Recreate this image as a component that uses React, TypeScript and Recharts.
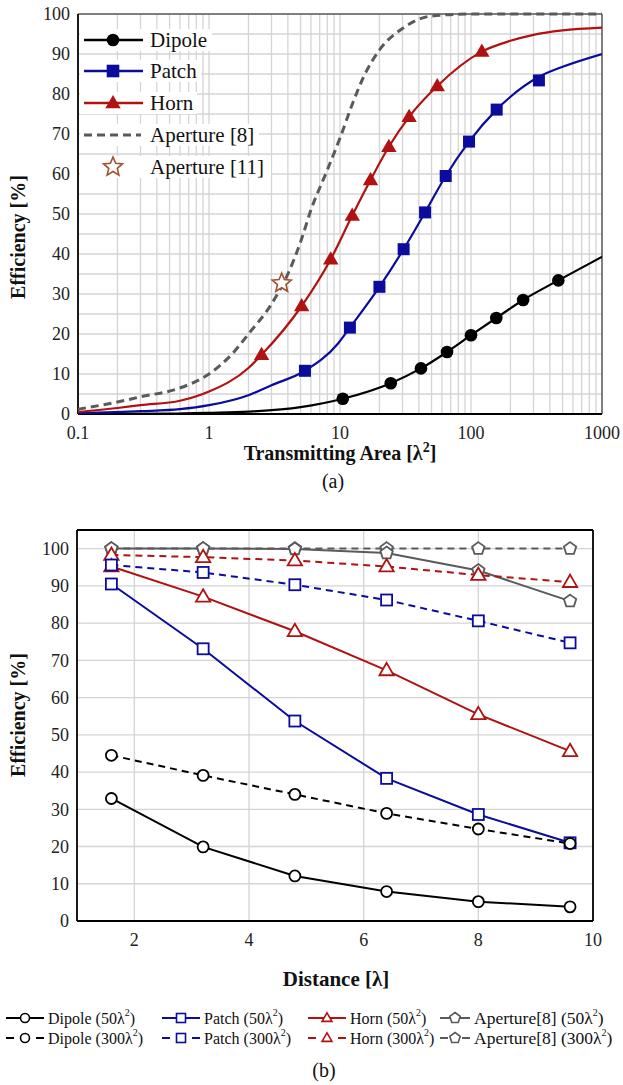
import React from 'react'
import { ComposedChart, Line, XAxis, YAxis, ReferenceLine } from 'recharts'

const SERIF = '"Liberation Serif", "Times New Roman", serif'
const BLUE = '#0c0c9c'
const RED = '#b01212'
const GRAY = '#5a5a5a'
const BROWN = '#a0522d'
const GRID = '#d4d4d4'

// ---- (a) efficiency vs transmitting area ----
const areaTicks = [0.1, 1, 10, 100, 1000]
const areaGrid = [
  0.2, 0.3, 0.4, 0.5, 0.6, 0.7, 0.8, 0.9, 1, 2, 3, 4, 5, 6, 7, 8, 9, 10,
  20, 30, 40, 50, 60, 70, 80, 90, 100, 200, 300, 400, 500, 600, 700, 800, 900,
]
const effTicks = [0, 10, 20, 30, 40, 50, 60, 70, 80, 90, 100]
const effGrid = [5, 10, 15, 20, 25, 30, 35, 40, 45, 50, 55, 60, 65, 70, 75, 80, 85, 90, 95]

const dipoleCurveArea = [0.1, 0.5, 1, 2, 5, 10.5, 24.4, 41.5, 65.6, 100, 156, 250, 464, 1000]
const dipoleCurveEff = [0, 0.1, 0.3, 0.6, 1.7, 3.8, 7.7, 11.4, 15.5, 19.7, 24, 28.5, 33.4, 39.3]
const dipoleMarkArea = [10.5, 24.4, 41.5, 65.6, 100, 156, 250, 464]
const dipoleMarkEff = [3.8, 7.7, 11.4, 15.5, 19.7, 24, 28.5, 33.4]

const patchCurveArea = [0.1, 0.3, 0.6, 1, 2, 3, 5.4, 9.7, 11.9, 20, 30.6, 44.6, 64.1, 96.6, 157, 330, 500, 1000]
const patchCurveEff = [0.2, 0.7, 1.2, 2.2, 4.7, 7.2, 10.8, 17.7, 21.6, 31.8, 41.2, 50.4, 59.5, 68.1, 76.1, 84.3, 86.8, 90]
const patchMarkArea = [5.4, 11.9, 20, 30.6, 44.6, 64.1, 96.6, 157, 330]
const patchMarkEff = [10.8, 21.6, 31.8, 41.2, 50.4, 59.5, 68.1, 76.1, 83.4]

const hornCurveArea = [0.1, 0.2, 0.3, 0.6, 1, 2, 2.52, 5.1, 8.5, 12.4, 17.1, 23.6, 33.7, 55.3, 121, 200, 300, 500, 1000]
const hornCurveEff = [0.5, 1.5, 2.2, 3.3, 5.6, 11.5, 14.8, 27, 38.7, 49.6, 58.5, 66.8, 74.3, 82, 90.6, 93.3, 94.8, 95.9, 96.6]
const hornMarkArea = [2.52, 5.1, 8.5, 12.4, 17.1, 23.6, 33.7, 55.3, 121]
const hornMarkEff = [14.8, 27, 38.7, 49.6, 58.5, 66.8, 74.3, 82, 90.6]

const aper8Area = [0.1, 0.2, 0.3, 0.6, 1, 1.5, 2, 3, 4, 5, 6, 8, 10, 12.6, 15, 20, 30, 50, 100, 1000]
const aper8Eff = [1.2, 3, 4.3, 6.5, 10, 15, 20, 27.5, 35, 43, 51, 61, 69, 78, 84, 91, 96.4, 99.5, 100, 100]

const aper11Area = [3.59]
const aper11Eff = [32.7]

// ---- (b) efficiency vs distance ----
const distance = [1.6, 3.2, 4.8, 6.4, 8.0, 9.6]
const distTicks = [2, 4, 6, 8, 10]
const distGrid = [2, 4, 6, 8]
const effGridB = [10, 20, 30, 40, 50, 60, 70, 80, 90, 100]

const dipole50 = [32.9, 19.9, 12.1, 7.9, 5.2, 3.8]
const dipole300 = [44.5, 39.1, 34, 28.9, 24.7, 20.8]
const patch50 = [90.5, 73.1, 53.7, 38.3, 28.6, 21]
const patch300 = [95.6, 93.6, 90.3, 86.2, 80.6, 74.7]
const horn50 = [95.2, 87.1, 77.8, 67.3, 55.5, 45.6]
const horn300 = [98.3, 97.7, 96.8, 95.2, 92.9, 91]
const aperture50 = [100, 100, 99.9, 98.8, 94.1, 85.9]
const aperture300 = [100, 100, 100, 100, 100, 100]

const legendA = ['Dipole', 'Patch', 'Horn', 'Aperture [8]', 'Aperture [11]']
const legendB = [
  ['Dipole', 'Patch', 'Horn', 'Aperture[8]'],
  ['50', '300'],
]

const pts = (xs: number[], ys: number[]) => xs.map((x, i) => ({ x, y: ys[i] }))

type Shape = 'circle' | 'square' | 'triangle' | 'pentagon' | 'star'

function marker(shape: Shape, cx: number, cy: number, s: number, stroke: string, fill: string, sw: number, key?: string) {
  if (shape === 'circle') return <circle key={key} cx={cx} cy={cy} r={s} fill={fill} stroke={stroke} strokeWidth={sw} />
  if (shape === 'square')
    return <rect key={key} x={cx - s} y={cy - s} width={2 * s} height={2 * s} fill={fill} stroke={stroke} strokeWidth={sw} />
  if (shape === 'triangle') {
    const p = `${cx},${cy - s * 1.15} ${cx + s * 1.1},${cy + s * 0.75} ${cx - s * 1.1},${cy + s * 0.75}`
    return <polygon key={key} points={p} fill={fill} stroke={stroke} strokeWidth={sw} />
  }
  const n = shape === 'star' ? 10 : 5
  const p: string[] = []
  for (let i = 0; i < n; i++) {
    const a = (-90 + (360 / n) * i) * Math.PI / 180
    const r = shape === 'star' && i % 2 === 1 ? s * 0.45 : s
    p.push(`${cx + r * Math.cos(a)},${cy + r * Math.sin(a)}`)
  }
  return <polygon key={key} points={p.join(' ')} fill={fill} stroke={stroke} strokeWidth={sw} />
}

const dotFn = (name: string, shape: Shape, s: number, stroke: string, fill: string, sw: number) =>
  (props: any) => marker(shape, props.cx, props.cy, s, stroke, fill, sw, `${name}-${props.index}`)

const tickStyle = { fontFamily: SERIF, fontSize: 18, fill: '#222' }

function ChartA() {
  return (
    <ComposedChart width={623} height={470} margin={{ top: 14, right: 21, bottom: 26, left: 0 }}>
      <XAxis type="number" dataKey="x" scale="log" domain={[0.1, 1000]} allowDataOverflow ticks={areaTicks}
        interval={0} tickFormatter={(v: number) => String(v)} tick={tickStyle} tickLine={false} tickSize={10}
        axisLine={false} />
      <YAxis type="number" domain={[0, 100]} ticks={effTicks} interval={0} width={78} tick={tickStyle}
        tickLine={false} axisLine={false} />
      {areaGrid.map(v => <ReferenceLine key={'gx' + v} x={v} stroke={GRID} strokeWidth={1.3} />)}
      {effGrid.map(v => <ReferenceLine key={'gy' + v} y={v} stroke={GRID} strokeWidth={1.3} />)}
      <ReferenceLine y={100} stroke="#555" strokeWidth={1.5} />
      <ReferenceLine x={1000} stroke="#555" strokeWidth={1.5} />
      <ReferenceLine y={0} stroke="#000" strokeWidth={1.8} />
      <ReferenceLine x={0.1} stroke="#000" strokeWidth={1.8} />
      <Line data={pts(aper8Area, aper8Eff)} dataKey="y" type="monotone" stroke={GRAY} strokeWidth={3}
        strokeDasharray="8 5" dot={false} isAnimationActive={false} />
      <Line data={pts(dipoleCurveArea, dipoleCurveEff)} dataKey="y" type="monotone" stroke="#000" strokeWidth={2.2}
        dot={false} isAnimationActive={false} />
      <Line data={pts(patchCurveArea, patchCurveEff)} dataKey="y" type="monotone" stroke={BLUE} strokeWidth={2.2}
        dot={false} isAnimationActive={false} />
      <Line data={pts(hornCurveArea, hornCurveEff)} dataKey="y" type="monotone" stroke={RED} strokeWidth={2.2}
        dot={false} isAnimationActive={false} />
      <Line data={pts(dipoleMarkArea, dipoleMarkEff)} dataKey="y" stroke="none"
        dot={dotFn('dm', 'circle', 6.3, '#000', '#000', 0)} isAnimationActive={false} />
      <Line data={pts(patchMarkArea, patchMarkEff)} dataKey="y" stroke="none"
        dot={dotFn('pm', 'square', 6, BLUE, BLUE, 0)} isAnimationActive={false} />
      <Line data={pts(hornMarkArea, hornMarkEff)} dataKey="y" stroke="none"
        dot={dotFn('hm', 'triangle', 7, RED, RED, 0)} isAnimationActive={false} />
      <Line data={pts(aper11Area, aper11Eff)} dataKey="y" stroke="none"
        dot={dotFn('am', 'star', 10, BROWN, '#fff', 1.6)} isAnimationActive={false} />
    </ComposedChart>
  )
}

function ChartB() {
  const series: [number[], string, Shape, boolean][] = [
    [aperture300, GRAY, 'pentagon', true],
    [aperture50, GRAY, 'pentagon', false],
    [horn300, RED, 'triangle', true],
    [horn50, RED, 'triangle', false],
    [patch300, BLUE, 'square', true],
    [patch50, BLUE, 'square', false],
    [dipole300, '#000', 'circle', true],
    [dipole50, '#000', 'circle', false],
  ]
  return (
    <ComposedChart width={623} height={470} margin={{ top: 30, right: 30, bottom: 19, left: 0 }}>
      <XAxis type="number" dataKey="x" domain={[1, 10]} ticks={distTicks} interval={0} tick={tickStyle}
        tickLine={false} tickSize={10} axisLine={false} />
      <YAxis type="number" domain={[0, 105]} ticks={effTicks} interval={0} width={77} tick={tickStyle}
        tickLine={false} axisLine={false} />
      {distGrid.map(v => <ReferenceLine key={'bx' + v} x={v} stroke={GRID} strokeWidth={1.3} />)}
      {effGridB.map(v => <ReferenceLine key={'by' + v} y={v} stroke={GRID} strokeWidth={1.3} />)}
      <ReferenceLine y={0} stroke="#000" strokeWidth={1.8} />
      <ReferenceLine y={105} stroke="#000" strokeWidth={1.8} />
      <ReferenceLine x={1} stroke="#000" strokeWidth={1.8} />
      <ReferenceLine x={10} stroke="#000" strokeWidth={1.8} />
      {series.map(([vals, color, shape, dashed], i) => (
        <Line key={'s' + i} data={pts(distance, vals)} dataKey="y" type="linear" stroke={color} strokeWidth={2}
          strokeDasharray={dashed ? '7 5' : undefined}
          dot={dotFn('b' + i, shape, shape === 'circle' ? 5.5 : shape === 'square' ? 5.5 : 6.5, color, '#fff', 1.8)}
          isAnimationActive={false} />
      ))}
    </ComposedChart>
  )
}

function Overlay() {
  const rowsA = [40, 71, 103, 135, 167]
  const bgW = [132, 121, 117, 179, 191]
  const colorsA = ['#000', BLUE, RED, GRAY, BROWN]
  const shapesA: Shape[] = ['circle', 'square', 'triangle', 'circle', 'star']
  const colX = [6, 162, 308, 440]
  const colText = [48, 204, 350, 474]
  const colW = [38, 38, 38, 30]
  const colFont = [16, 16, 16, 17.5]
  const colColors = ['#000', BLUE, RED, GRAY]
  const colShapes: Shape[] = ['circle', 'square', 'triangle', 'pentagon']
  const rowsB = [1018, 1038]
  return (
    <svg width={623} height={1085} style={{ position: 'absolute', left: 0, top: 0, pointerEvents: 'none', fontFamily: SERIF }}>
      {/* legend (a) */}
      {legendA.map((name, i) => {
        const y = rowsA[i]
        return (
          <g key={name}>
            <rect x={80} y={y - 11} width={bgW[i]} height={22} fill="#fff" />
            {i < 3 && <line x1={84} x2={143} y1={y} y2={y} stroke={colorsA[i]} strokeWidth={2.5} />}
            {i === 3 && <line x1={84} x2={141} y1={y} y2={y} stroke={GRAY} strokeWidth={3} strokeDasharray="8 5" />}
            {i !== 3 && marker(shapesA[i], 113, y, i === 4 ? 10 : i === 2 ? 7 : 6.3, colorsA[i],
              i === 4 ? '#fff' : colorsA[i], i === 4 ? 1.6 : 0)}
            <text x={150} y={y} dominantBaseline="central" fontSize={21} fill="#111">{name}</text>
          </g>
        )
      })}
      {/* axis titles (a) */}
      <text x={18} y={237} transform="rotate(-90 18 237)" textAnchor="middle" dominantBaseline="central"
        fontSize={20} fontWeight="bold" fill="#111">Efficiency [%]</text>
      <text x={340} y={460} textAnchor="middle" fontSize={20} fontWeight="bold" fill="#111">
        Transmitting Area [λ<tspan dy={-8} fontSize={14}>2</tspan><tspan dy={8}>]</tspan>
      </text>
      <text x={333} y={481} textAnchor="middle" dominantBaseline="central" fontSize={20} fill="#111">(a)</text>
      {/* axis titles (b) */}
      <text x={18} y={715} transform="rotate(-90 18 715)" textAnchor="middle" dominantBaseline="central"
        fontSize={20} fontWeight="bold" fill="#111">Efficiency [%]</text>
      <text x={336} y={979} textAnchor="middle" dominantBaseline="central" fontSize={21} fontWeight="bold"
        fill="#111">Distance [λ]</text>
      {/* legend (b) */}
      {legendB[1].map((size, r) =>
        legendB[0].map((name, c) => {
          const y = rowsB[r]
          const x0 = colX[c]
          const w = colW[c]
          const col = colColors[c]
          return (
            <g key={name + size}>
              {r === 0 ? (
                <line x1={x0} x2={x0 + w} y1={y} y2={y} stroke={col} strokeWidth={2} />
              ) : (
                <>
                  <line x1={x0} x2={x0 + 8} y1={y} y2={y} stroke={col} strokeWidth={2} />
                  <line x1={x0 + w - 8} x2={x0 + w} y1={y} y2={y} stroke={col} strokeWidth={2} />
                </>
              )}
              {marker(colShapes[c], x0 + w / 2, y, c === 3 ? 5.5 : 4.5, col, '#fff', 1.6)}
              <text x={colText[c]} y={y} dominantBaseline="central" fontSize={colFont[c]} fill="#111">
                {name} ({size}λ<tspan dy={-6} fontSize={10}>2</tspan><tspan dy={6}>)</tspan>
              </text>
            </g>
          )
        })
      )}
      <text x={324} y={1070} textAnchor="middle" dominantBaseline="central" fontSize={20} fill="#111">(b)</text>
    </svg>
  )
}

export default function App() {
  return (
    <div style={{ position: 'absolute', left: 0, top: 0, width: 623, height: 1085, background: '#fff', fontFamily: SERIF }}>
      <div style={{ position: 'absolute', left: 0, top: 0 }}>
        <ChartA />
      </div>
      <div style={{ position: 'absolute', left: 0, top: 500 }}>
        <ChartB />
      </div>
      <Overlay />
    </div>
  )
}
